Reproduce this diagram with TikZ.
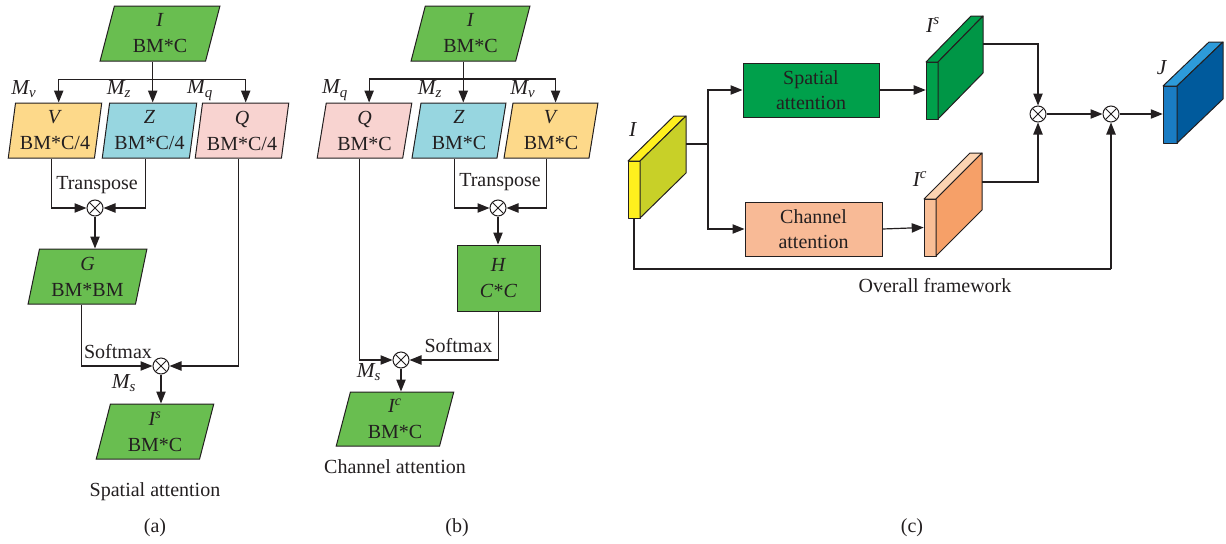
\documentclass[tikz,border=0pt]{standalone}
\usepackage{fontspec}
\setmainfont{Liberation Serif}
\usetikzlibrary{arrows.meta,shapes.geometric}
\def\pxu{0.75pt}
\definecolor{gbox}{RGB}{105,190,80}
\definecolor{ybox}{RGB}{253,217,138}
\definecolor{bbox}{RGB}{151,214,224}
\definecolor{pbox}{RGB}{248,211,208}
\definecolor{sgreen}{RGB}{0,160,75}
\definecolor{sgreenside}{RGB}{0,150,70}
\definecolor{cpeach}{RGB}{248,186,150}
\definecolor{cfront}{RGB}{249,190,150}
\definecolor{ctop}{RGB}{252,212,178}
\definecolor{cside}{RGB}{246,160,104}
\definecolor{yfront}{RGB}{255,240,30}
\definecolor{yside}{RGB}{200,208,40}
\definecolor{jfront}{RGB}{26,124,195}
\definecolor{jtop}{RGB}{45,155,218}
\definecolor{jside}{RGB}{0,90,156}
\definecolor{ink}{RGB}{35,31,32}
\newcommand\cuboid[9]{%
  \filldraw[fill=#7,draw=ink,line width=0.75pt,line join=round] (#1,#2) rectangle ++(#3,#4);
  \filldraw[fill=#8,draw=ink,line width=0.75pt,line join=round] (#1,#2) -- ++(#5,-#6) -- ++(#3,0) -- ++(-#5,#6) -- cycle;
  \filldraw[fill=#9,draw=ink,line width=0.75pt,line join=round] (#1+#3,#2) -- ++(#5,-#6) -- ++(0,#4) -- ++(-#5,#6) -- cycle;}
\tikzset{
  every node/.style={font=\fontsize{15}{19.5}\selectfont, text=ink},
  para/.style={trapezium, trapezium stretches=true, trapezium left angle=80.7,
    trapezium right angle=99.3, draw=ink, line width=0.75pt, inner sep=0pt,
    minimum height=55*\pxu, align=center},
  bigpara/.style={para, trapezium left angle=77.7, trapezium right angle=102.3},
  rbox/.style={rectangle, draw=ink, line width=0.75pt, inner sep=0pt, align=center},
  ot/.style={circle, draw=ink, fill=white, line width=0.75pt, minimum size=16*\pxu, inner sep=0pt,
    path picture={\draw[ink,line width=0.6pt] (path picture bounding box.north west) -- (path picture bounding box.south east)
      (path picture bounding box.north east) -- (path picture bounding box.south west);}},
  conn/.style={draw=ink, line width=0.9pt},
  arr/.style={conn, -{Triangle[length=9pt,width=7pt]}},
  lbl/.style={inner sep=0pt, font=\fontsize{16}{19.5}\selectfont},
  cube/.style={inner sep=0pt, rectangle}
}
\begin{document}
\begin{tikzpicture}[x=0.75pt,y=-0.75pt]
\useasboundingbox (0,0) rectangle (1226,543);
% ---------------- (a) ----------------
\node[bigpara, fill=gbox, minimum width=120*\pxu] (Ia) at (160,33.5) {\textit{I}\\BM*C};
\node[para, fill=ybox, minimum width=94*\pxu] (Va) at (55,130.5) {\textit{V}\\BM*C/4};
\node[para, fill=bbox, minimum width=95*\pxu] (Za) at (149.5,130.5) {\textit{Z}\\BM*C/4};
\node[para, fill=pbox, minimum width=94*\pxu] (Qa) at (242,130.5) {\textit{Q}\\BM*C/4};
\node[bigpara, fill=gbox, minimum width=119*\pxu] (Ga) at (87.5,276.5) {\textit{G}\\BM*BM};
\node[bigpara, fill=gbox, minimum width=118*\pxu] (Isa) at (155,431.5) {\textit{I\textsuperscript{s}}\\BM*C};
\node[ot] (ota1) at (95,208) {};
\node[ot] (ota2) at (161,366) {};
\node[lbl] (Mva) at (24,89) {\textit{M\textsubscript{v}}};
\node[lbl] (Mza) at (119,89) {\textit{M\textsubscript{z}}};
\node[lbl] (Mqa) at (200,90) {\textit{M\textsubscript{q}}};
\node[lbl,font=\fontsize{15}{19.5}\selectfont] (Tra) at (97,185) {Transpose};
\node[lbl,font=\fontsize{15}{19.5}\selectfont] (Sfa) at (118,352) {Softmax};
\node[lbl] (Msa) at (124,383) {\textit{M\textsubscript{s}}};
\node[lbl,font=\fontsize{15}{19.5}\selectfont] (capa) at (155,492) {Spatial attention};
\node[lbl,font=\fontsize{15}{19.5}\selectfont] (laba) at (155,528) {(a)};
\path (Ia.bottom side) ++(0,18) coordinate (sa);
\draw[conn] (Ia.bottom side) -- (sa);
\draw[arr] (sa) -| (Va.top side);
\draw[arr] (sa) -- (sa |- Za.top side);
\draw[arr] (sa) -| (Qa.top side);
\draw[arr] (Va.bottom side) |- (ota1.west);
\draw[arr] (Za.bottom side) |- (ota1.east);
\draw[arr] (ota1.south) -- (ota1 |- Ga.top side);
\draw[arr] (Ga.bottom side) |- (ota2.west);
\draw[arr] (Qa.bottom side) |- (ota2.east);
\draw[arr] (ota2.south) -- (ota2 |- Isa.top side);
% ---------------- (b) ----------------
\node[bigpara, fill=gbox, minimum width=119*\pxu] (Ib) at (470.5,33.5) {\textit{I}\\BM*C};
\node[para, fill=pbox, minimum width=95*\pxu] (Qb) at (364.5,130.5) {\textit{Q}\\BM*C};
\node[para, fill=bbox, minimum width=94*\pxu] (Zb) at (459,130.5) {\textit{Z}\\BM*C};
\node[para, fill=ybox, minimum width=94*\pxu] (Vb) at (551,130.5) {\textit{V}\\BM*C};
\node[rbox, fill=gbox, minimum width=83*\pxu, minimum height=66*\pxu] (Hb) at (498.5,278) {\textit{H}\\\textit{C}*\textit{C}};
\node[bigpara, fill=gbox, minimum width=118*\pxu, minimum height=54*\pxu] (Icb) at (395,419) {\textit{I\textsuperscript{c}}\\BM*C};
\node[ot] (otb1) at (498,208) {};
\node[ot] (otb2) at (401,360) {};
\node[lbl] (Mqb) at (335,90) {\textit{M\textsubscript{q}}};
\node[lbl] (Mzb) at (430,89) {\textit{M\textsubscript{z}}};
\node[lbl] (Mvb) at (523,89) {\textit{M\textsubscript{v}}};
\node[lbl,font=\fontsize{15}{19.5}\selectfont] (Trb) at (500,182) {Transpose};
\node[lbl,font=\fontsize{15}{19.5}\selectfont] (Sfb) at (458.5,346) {Softmax};
\node[lbl] (Msb) at (369,372) {\textit{M\textsubscript{s}}};
\node[lbl,font=\fontsize{15}{19.5}\selectfont] (capb) at (395,467) {Channel attention};
\node[lbl,font=\fontsize{15}{19.5}\selectfont] (labb) at (457,528) {(b)};
\path (Ib.bottom side) ++(0,17.5) coordinate (sb);
\draw[conn] (Ib.bottom side) -- (sb);
\draw[arr] (sb) -| (Qb.top side);
\draw[arr] (sb) -- (sb |- Zb.top side);
\draw[arr] (sb) -| (Vb.top side);
\draw[arr] (Zb.bottom side) |- (otb1.west);
\draw[arr] (Vb.bottom side) |- (otb1.east);
\draw[arr] (otb1.south) -- (otb1 |- Hb.north);
\draw[arr] (Hb.south) |- (otb2.east);
\draw[arr] (Qb.bottom side) |- (otb2.west);
\draw[arr] (otb2.south) -- (otb2 |- Icb.top side);
% ---------------- (c) ----------------
\cuboid{628}{161}{12}{57}{46}{45}{yfront}{yfront}{yside}
\cuboid{926}{62}{12}{57}{45}{46}{sgreen}{sgreen}{sgreenside}
\cuboid{924}{199}{12}{57}{46}{46}{cfront}{ctop}{cside}
\cuboid{1163}{86}{14}{57}{46}{44}{jfront}{jtop}{jside}
\node[cube, minimum width=12*\pxu, minimum height=57*\pxu] (Icube) at (634,189.5) {};
\node[cube, minimum width=12*\pxu, minimum height=57*\pxu] (Iscube) at (932,90.5) {};
\node[cube, minimum width=12*\pxu, minimum height=57*\pxu] (Iccube) at (930,227.5) {};
\node[cube, minimum width=14*\pxu, minimum height=57*\pxu] (Jcube) at (1170,114.5) {};
\coordinate (Iout) at (686,144);
\coordinate (Isout) at (983,44);
\coordinate (Icout) at (982,182);
\coordinate (Isplit) at (708,144);
\coordinate (loopc) at (1111,269);
\node[rbox, fill=sgreen, minimum width=136*\pxu, minimum height=54*\pxu, font=\fontsize{15}{19}\selectfont] (SA) at (811,90) {Spatial\\attention};
\node[rbox, fill=cpeach, minimum width=137*\pxu, minimum height=54*\pxu, font=\fontsize{15}{19}\selectfont] (CA) at (813.5,229) {Channel\\attention};
\node[ot] (otc1) at (1038,114) {};
\node[ot] (otc2) at (1111,114) {};
\node[lbl] (lI) at (633,130) {\textit{I}};
\node[lbl] (lIs) at (933,25) {\textit{I\textsuperscript{s}}};
\node[lbl] (lIc) at (920,179) {\textit{I\textsuperscript{c}}};
\node[lbl] (lJ) at (1162,68) {\textit{J}};
\node[lbl,font=\fontsize{15}{19.5}\selectfont] (capc) at (935,286) {Overall framework};
\node[lbl,font=\fontsize{15}{19.5}\selectfont] (labc) at (912,528) {(c)};
\draw[conn] (Iout) -- (Isplit);
\draw[arr] (Isplit) |- (SA.west);
\draw[arr] (Isplit) |- (CA.west);
\draw[arr] (SA.east) -- (SA.east -| Iscube.west);
\draw[arr] (CA.east) -- (Iccube.west);
\draw[arr] (Isout) -| (otc1.north);
\draw[arr] (Icout) -| (otc1.south);
\draw[arr] (otc1.east) -- (otc2.west);
\draw[arr] (otc2.east) -- (otc2.east -| Jcube.west);
\draw[conn] (Icube.south) |- (loopc);
\draw[arr] (loopc) -- (otc2.south);
\end{tikzpicture}
\end{document}
